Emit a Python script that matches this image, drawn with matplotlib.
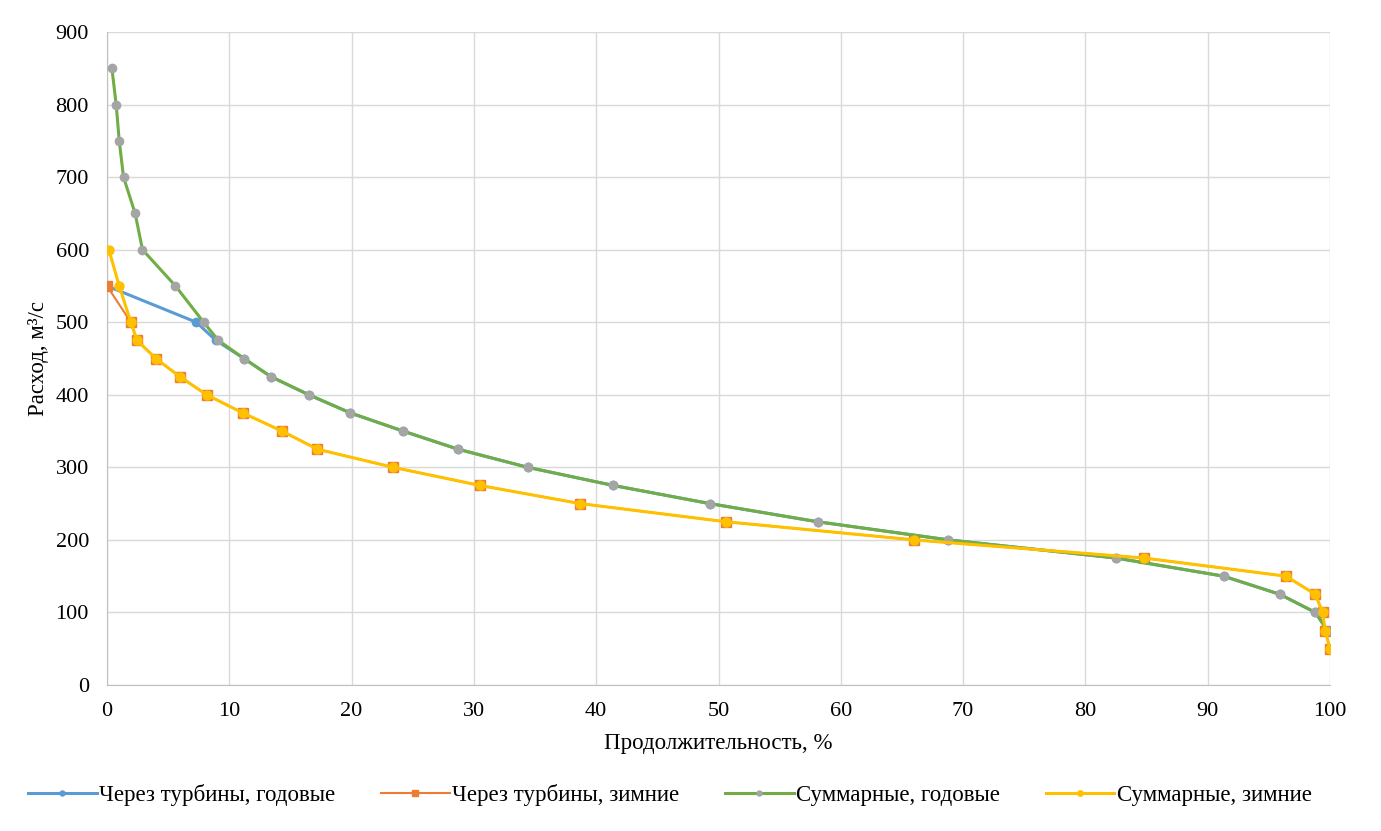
import matplotlib
matplotlib.use("Agg")
import matplotlib.pyplot as plt

plt.rcParams["font.family"] = ["Liberation Serif", "DejaVu Serif"]

# Суммарные, годовые
sum_year_x = [0.4, 0.75, 1.0, 1.35, 2.3, 2.9, 5.6, 7.9, 9.1, 11.2, 13.4, 16.5, 19.9, 24.2,
              28.7, 34.4, 41.4, 49.3, 58.1, 68.8, 82.5, 91.3, 95.9, 98.8, 99.8]
sum_year_y = [850, 800, 750, 700, 650, 600, 550, 500, 475, 450, 425, 400, 375, 350,
              325, 300, 275, 250, 225, 200, 175, 150, 125, 100, 75]

# Через турбины, годовые
turb_year_x = [0.0, 7.3, 8.9] + sum_year_x[9:]
turb_year_y = [550, 500, 475] + sum_year_y[9:]

# Суммарные, зимние
sum_win_x = [0.15, 1.0, 1.95, 2.45, 4.0, 5.95, 8.15, 11.1, 14.3, 17.2, 23.4, 30.5,
             38.7, 50.6, 66.0, 84.8, 96.4, 98.8, 99.4, 99.6, 100.0]
sum_win_y = [600, 550, 500, 475, 450, 425, 400, 375, 350, 325, 300, 275,
             250, 225, 200, 175, 150, 125, 100, 75, 50]

# Через турбины, зимние
turb_win_x = [0.0] + sum_win_x[2:]
turb_win_y = [550] + sum_win_y[2:]

fig = plt.figure(figsize=(13.81, 8.31), dpi=100)
ax = fig.add_axes([107 / 1381, 1 - 685 / 831, (1330 - 107) / 1381, (685 - 32) / 831])

ax.plot(turb_year_x, turb_year_y, color="#5B9BD5", lw=2.2, marker="o", ms=6,
        mfc="#5B9BD5", mec="#5B9BD5", label="Через турбины, годовые", zorder=3)
ax.plot(turb_win_x, turb_win_y, color="#ED7D31", lw=1.5, marker="s", ms=6.5,
        mfc="#ED7D31", mec="#ED7D31", label="Через турбины, зимние", zorder=4)
ax.plot(sum_year_x, sum_year_y, color="#70AD47", lw=2.2, marker="o", ms=6,
        mfc="#A5A5A5", mec="#A5A5A5", label="Суммарные, годовые", zorder=5)
ax.plot(sum_win_x, sum_win_y, color="#FFC000", lw=2.2, marker="o", ms=6.5,
        mfc="#FFC000", mec="#FFC000", label="Суммарные, зимние", zorder=6)

ax.set_xlim(0, 100)
ax.set_ylim(0, 900)
ax.set_xticks(range(0, 101, 10))
ax.set_yticks(range(0, 901, 100))
ax.grid(True, color="#D9D9D9", lw=1)
ax.set_axisbelow(True)
for s in ["top", "right"]:
    ax.spines[s].set_visible(False)
for s in ["left", "bottom"]:
    ax.spines[s].set_color("#BFBFBF")
ax.tick_params(length=0, labelsize=16)
ax.tick_params(axis="x", pad=12)
ax.tick_params(axis="y", pad=13)

ax.set_xlabel("Продолжительность, %", fontsize=16.5, labelpad=9)
ax.set_ylabel("Расход, м³/с", fontsize=16.5, labelpad=5)

leg = fig.legend(loc="center", bbox_to_anchor=(0.485, 1 - 795 / 831), ncol=4, frameon=False,
                 fontsize=16.5, handlelength=3.0, handletextpad=0.1, columnspacing=2.0,
                 markerscale=0.6)

fig.savefig("out.png", dpi=100)
